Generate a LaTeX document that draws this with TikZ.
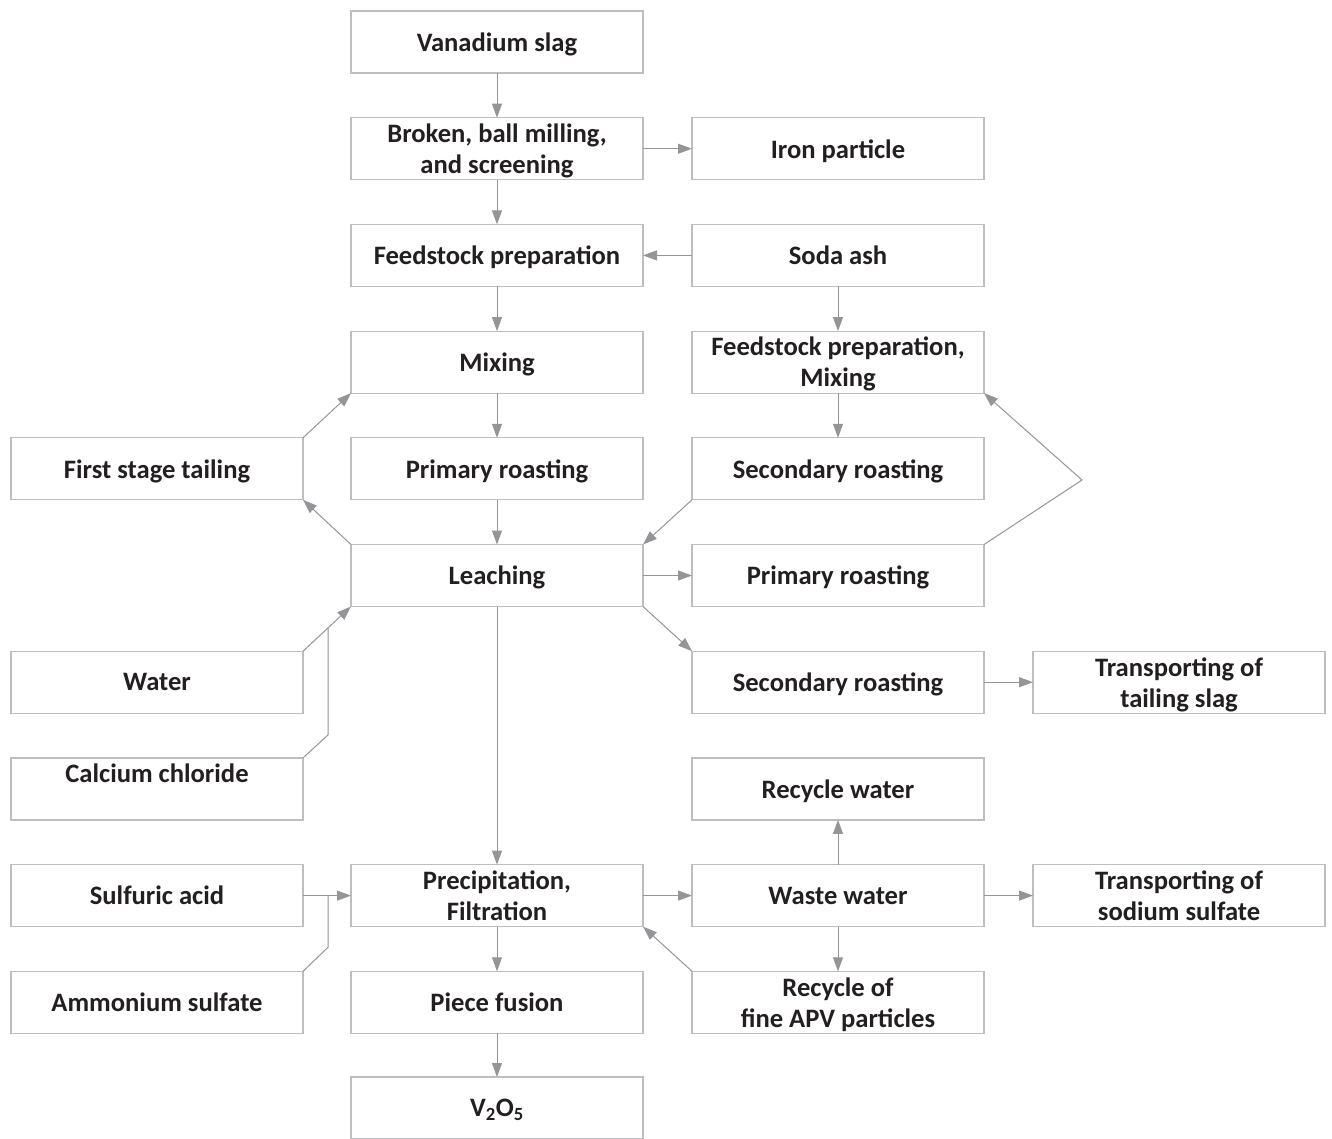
\documentclass[tikz,border=0pt]{standalone}
\usepackage{fontspec}
\setmainfont{Carlito}
\usetikzlibrary{arrows.meta,calc}
\definecolor{txt}{HTML}{231F20}
\definecolor{bord}{HTML}{BCBEC0}
\definecolor{arr}{HTML}{939598}
\begin{document}
\begin{tikzpicture}[x=1pt,y=-1pt,
 box/.style={draw=bord,line width=1.2pt,minimum width=292pt,minimum height=62pt,inner sep=0pt,outer sep=0pt,align=center,text depth=0pt,font=\fontsize{26.6}{31}\selectfont\bfseries,text=txt},
 flow/.style={draw=arr,line width=1pt,-{Triangle[length=14pt,width=10pt]}},
 plain/.style={draw=arr,line width=1pt}]
\useasboundingbox (0,0) rectangle (1332,1138);
\node[box] (van) at (497,42) {Vanadium slag};
\node[box] (brk) at (497,148.7) {Broken, ball milling,\\and screening};
\node[box] (iron) at (838,148.7) {Iron particle};
\node[box] (fp) at (497,255.4) {Feedstock preparation};
\node[box] (soda) at (838,255.4) {Soda ash};
\node[box] (mix) at (497,362.1) {Mixing};
\node[box] (fpm) at (838,362.1) {Feedstock preparation,\\Mixing};
\node[box] (fst) at (157,468.8) {First stage tailing};
\node[box] (pr1) at (497,468.8) {Primary roasting};
\node[box] (sr1) at (838,468.8) {Secondary roasting};
\node[box] (lea) at (497,575.5) {Leaching};
\node[box] (pr2) at (838,575.5) {Primary roasting};
\node[box] (wat) at (157,682.2) {Water};
\node[box] (sr2) at (838,682.2) {Secondary roasting};
\node[box] (tts) at (1179,682.2) {Transporting of\\tailing slag};
\node[box] (cal) at (157,788.9) {Calcium chloride\\\mbox{}};
\node[box] (rw) at (838,788.9) {Recycle water};
\node[box] (sulf) at (157,895.6) {Sulfuric acid};
\node[box] (prec) at (497,895.6) {Precipitation,\\Filtration};
\node[box] (ww) at (838,895.6) {Waste water};
\node[box] (tss) at (1179,895.6) {Transporting of\\sodium sulfate};
\node[box] (amm) at (157,1002.3) {Ammonium sulfate};
\node[box] (pf) at (497,1002.3) {Piece fusion};
\node[box] (apv) at (838,1002.3) {Recycle of\\fine APV particles};
\node[box] (v2o5) at (497,1108) {V\textsubscript{2}O\textsubscript{5}};
% connectors
\draw[flow] (van) -- (brk);
\draw[flow] (brk) -- (iron);
\draw[flow] (brk) -- (fp);
\draw[flow] (soda) -- (fp);
\draw[flow] (fp) -- (mix);
\draw[flow] (soda) -- (fpm);
\draw[flow] (mix) -- (pr1);
\draw[flow] (fpm) -- (sr1);
\draw[flow] (pr1) -- (lea);
\draw[flow] (sr1.south west) -- (lea.north east);
\draw[flow] (lea.north west) -- (fst.south east);
\draw[flow] (fst.north east) -- (mix.south west);
\coordinate (rl) at (1082,480);
\draw[flow] (pr2.north east) -- (rl) -- (fpm.south east);
\draw[flow] (lea) -- (pr2);
\draw[flow] (lea.south east) -- (sr2.north west);
\draw[flow] (sr2) -- (tts);
\draw[flow] (wat.north east) -- (lea.south west);
\coordinate (wj) at ($(wat.north east)!0.52!(lea.south west)$);
\coordinate (cb) at ($(cal.north east)+(25,-23)$);
\draw[plain] (cal.north east) -- (cb) -- (cb |- wj);
\draw[flow] (lea) -- (prec);
\draw[flow] (sulf) -- (prec);
\coordinate (ab) at ($(amm.north east)+(25,-24)$);
\draw[plain] (amm.north east) -- (ab) -- (ab |- sulf.east);
\draw[flow] (prec) -- (ww);
\draw[flow] (ww) -- (rw);
\draw[flow] (ww) -- (tss);
\draw[flow] (ww) -- (apv);
\draw[flow] (apv.north west) -- (prec.south east);
\draw[flow] (prec) -- (pf);
\draw[flow] (pf) -- (v2o5);
\end{tikzpicture}
\end{document}
